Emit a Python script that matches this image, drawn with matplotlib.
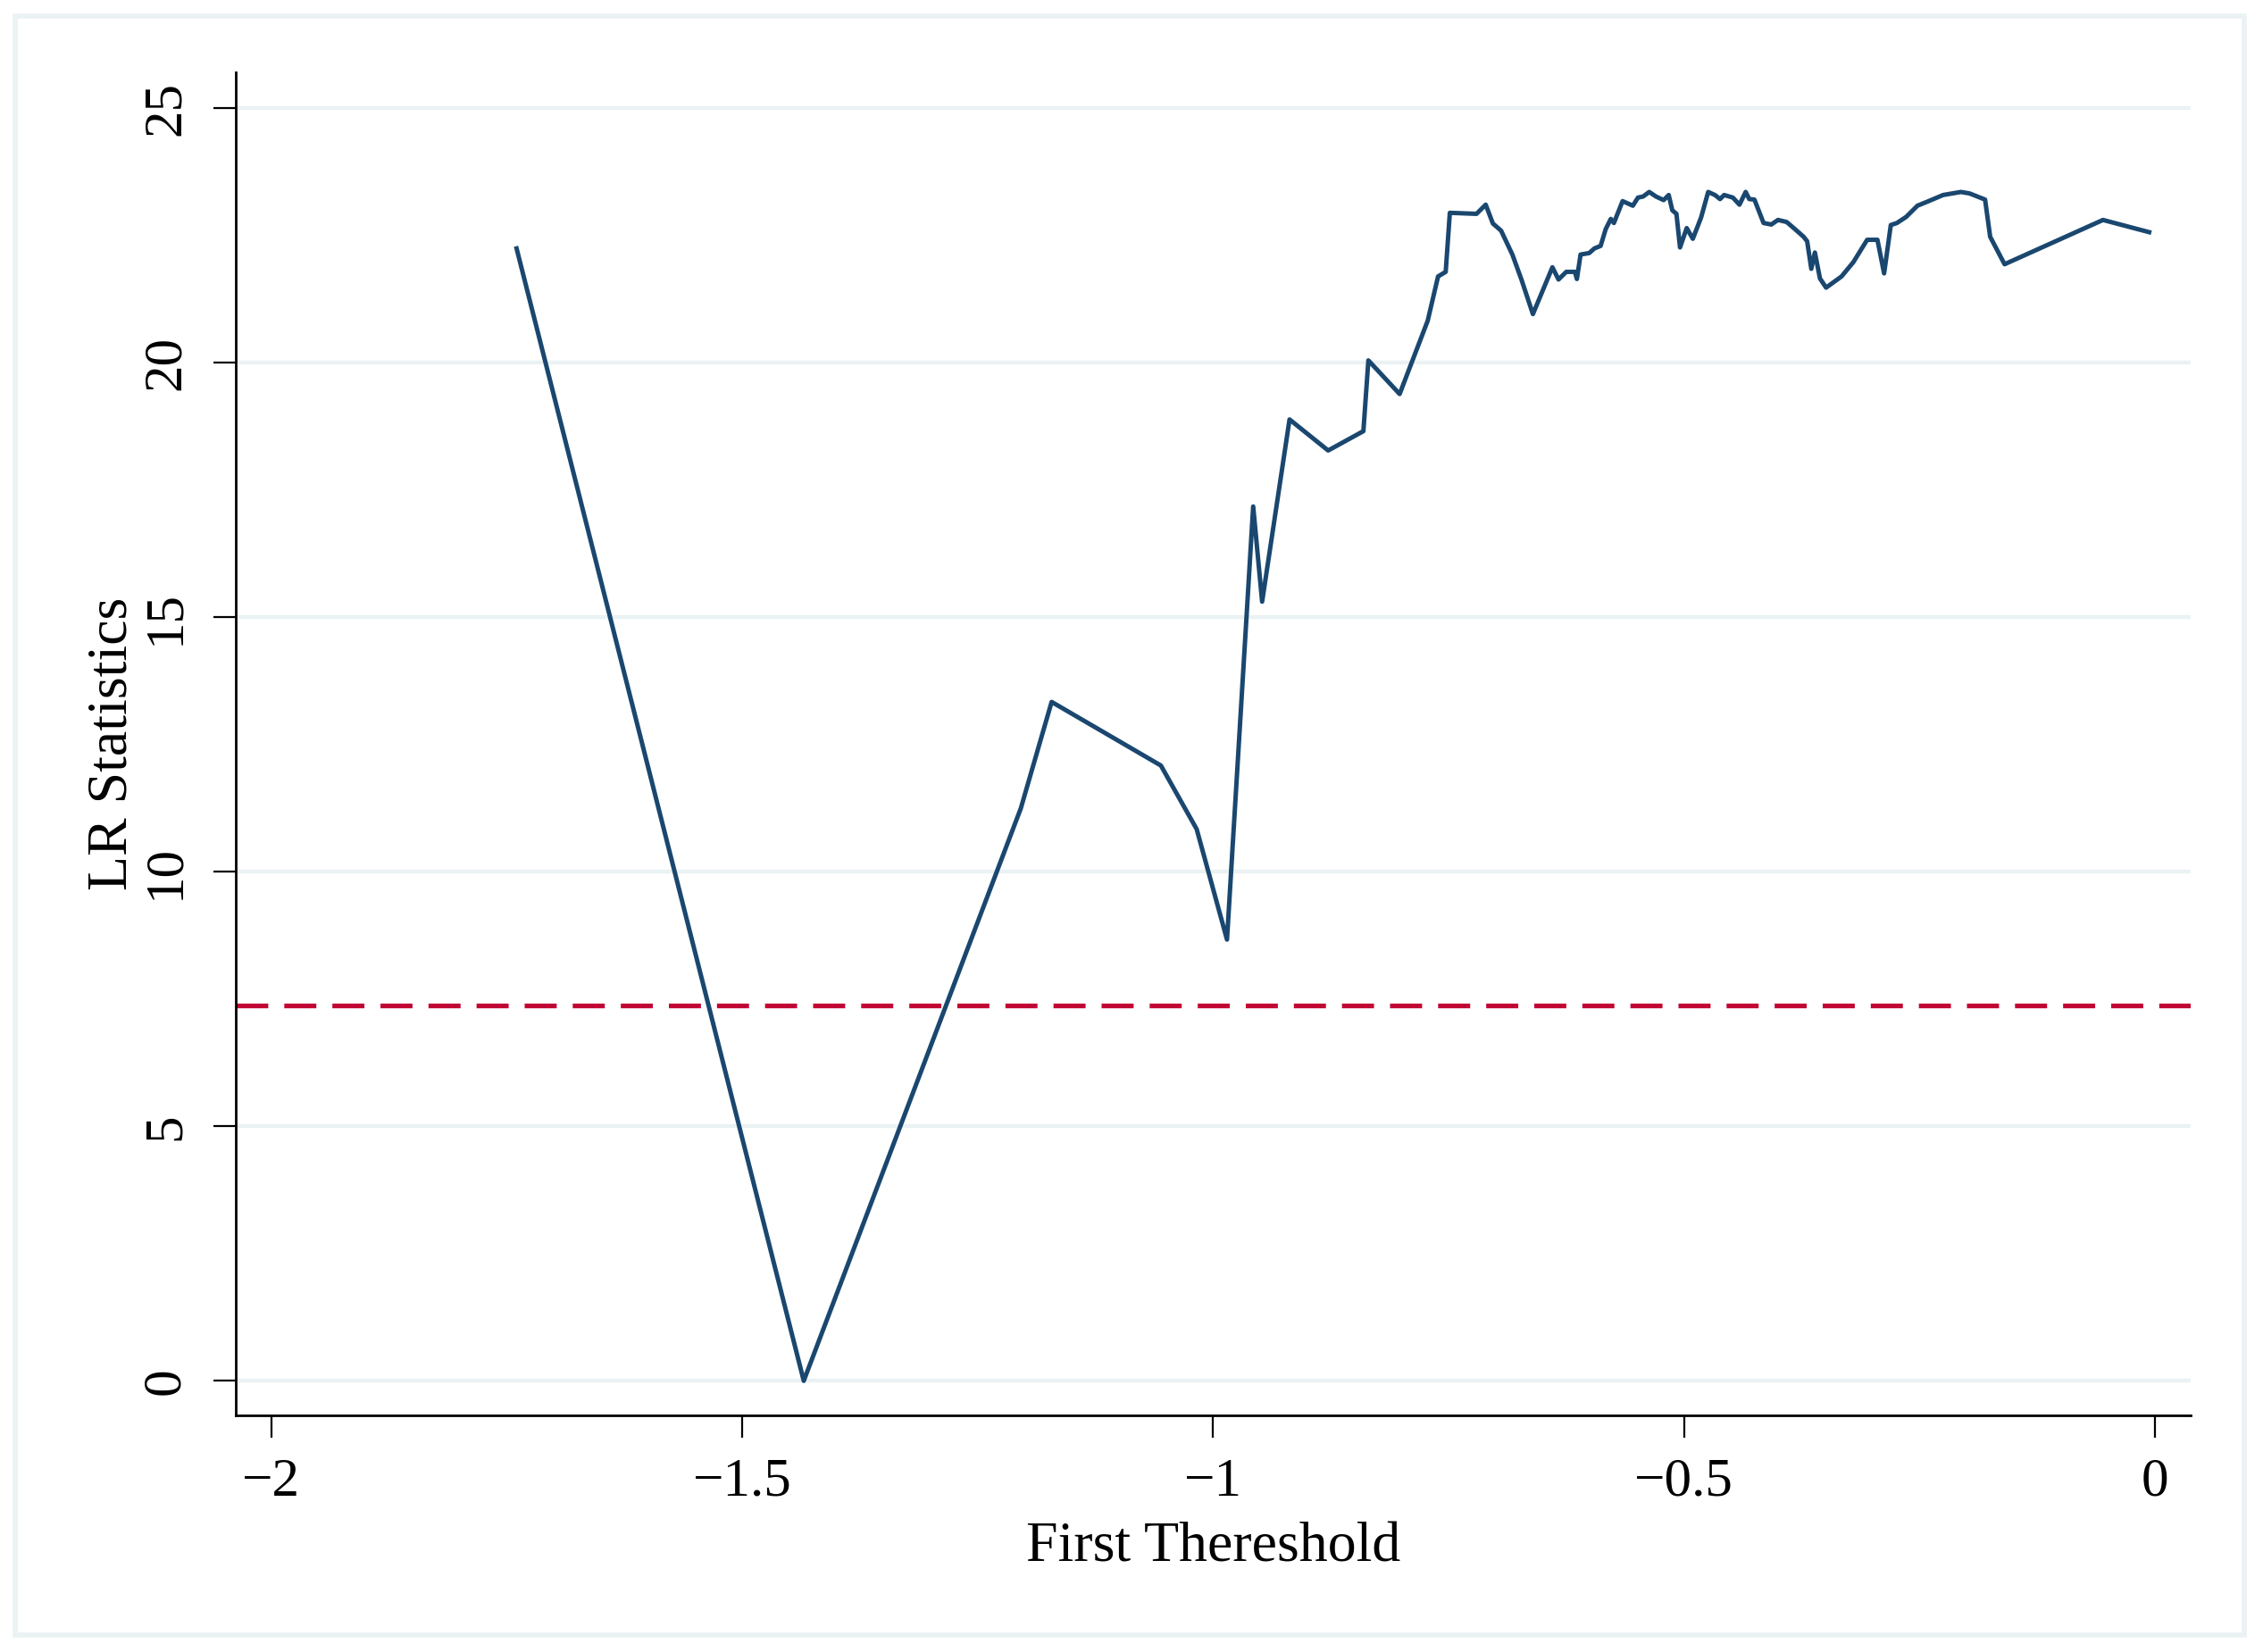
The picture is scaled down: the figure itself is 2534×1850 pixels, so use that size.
import numpy as np
import matplotlib
matplotlib.use("Agg")
import matplotlib.pyplot as plt
from matplotlib.patches import Rectangle

plt.rcParams['font.family'] = ['Liberation Serif', 'DejaVu Serif']

# valeurs
threshold = [-1.7394, -1.4345, -1.2040, -1.1713, -1.0553, -1.0173, -0.9851, -0.9573,
             -0.9478, -0.9187, -0.8777, -0.8403, -0.8350, -0.8018, -0.7720, -0.7610,
             -0.7529, -0.7485, -0.7202, -0.7104, -0.7028, -0.6941, -0.6821, -0.6723,
             -0.6603, -0.6396, -0.6331, -0.6249, -0.6157, -0.6136, -0.6097, -0.6005,
             -0.5950, -0.5884, -0.5830, -0.5776, -0.5743, -0.5651, -0.5542, -0.5487,
             -0.5433, -0.5368, -0.5296, -0.5215, -0.5161, -0.5123, -0.5079, -0.5041,
             -0.4970, -0.4905, -0.4817, -0.4742, -0.4670, -0.4616, -0.4573, -0.4480,
             -0.4410, -0.4344, -0.4306, -0.4251, -0.4154, -0.4072, -0.4001, -0.3909,
             -0.3827, -0.3729, -0.3691, -0.3647, -0.3609, -0.3555, -0.3490, -0.3326,
             -0.3201, -0.3054, -0.2945, -0.2874, -0.2803, -0.2738, -0.2640, -0.2520,
             -0.2401, -0.2248, -0.2058, -0.1965, -0.1802, -0.1748, -0.1595, -0.0550,
             -0.0060]
lr_stat = [22.25, 0.00, 11.25, 13.34, 12.09, 10.84, 8.67, 17.18,
           15.31, 18.89, 18.28, 18.66, 20.05, 19.39, 20.83, 21.70,
           21.79, 22.95, 22.93, 23.11, 22.74, 22.60, 22.13, 21.63,
           20.96, 21.88, 21.64, 21.79, 21.79, 21.65, 22.13, 22.16,
           22.25, 22.30, 22.63, 22.83, 22.75, 23.18, 23.09, 23.25,
           23.27, 23.36, 23.27, 23.20, 23.30, 23.00, 22.93, 22.27,
           22.65, 22.44, 22.86, 23.36, 23.30, 23.22, 23.30, 23.25,
           23.11, 23.36, 23.22, 23.21, 22.75, 22.72, 22.81, 22.77,
           22.64, 22.48, 22.39, 21.85, 22.17, 21.66, 21.48, 21.70,
           21.98, 22.42, 22.42, 21.76, 22.71, 22.75, 22.87, 23.09,
           23.18, 23.30, 23.36, 23.33, 23.21, 22.48, 21.94, 22.81,
           22.57]
critical = 7.37

xticks = [-2, -1.5, -1, -0.5, 0]
xticklabels = ["\u22122", "\u22121.5", "\u22121", "\u22120.5", "0"]
yticks = [0, 5, 10, 15, 20, 25]

fig = plt.figure(figsize=(12.67, 9.25), dpi=200)
ax = fig.add_axes([0.104, 0.1432, 0.864, 0.813])

grid_col = "#eaf2f3"
for y in yticks:
    ax.axhline(y, color=grid_col, linewidth=1.6, zorder=0)

ax.plot(threshold, lr_stat, color="#1a476f", linewidth=1.8, zorder=3)
ax.axhline(critical, color="#c10534", linewidth=1.9, dashes=(6.8, 3.4), zorder=2)

ax.set_xlim(-2.038, 0.038)
ax.set_ylim(-0.68, 25.71)
ax.set_xticks(xticks)
ax.set_xticklabels(xticklabels)
ax.set_yticks(yticks)
ax.set_yticklabels([str(v) for v in yticks], rotation=90, va="center")

for s in ["top", "right"]:
    ax.spines[s].set_visible(False)
for s in ["left", "bottom"]:
    ax.spines[s].set_linewidth(1.0)
ax.tick_params(axis="both", labelsize=22, length=9, width=0.8, direction="out")
ax.tick_params(axis="x", pad=8)
ax.tick_params(axis="y", pad=9)

ax.set_xlabel("First Thereshold", fontsize=23, labelpad=6)
ax.set_ylabel("LR Statistics", fontsize=23, labelpad=1)

fig.patches.append(Rectangle((0.0069, 0.0103), 0.9848, 0.980, transform=fig.transFigure,
                             fill=False, edgecolor=grid_col, linewidth=2.0))

fig.savefig("out.png", dpi=200, facecolor="white")
